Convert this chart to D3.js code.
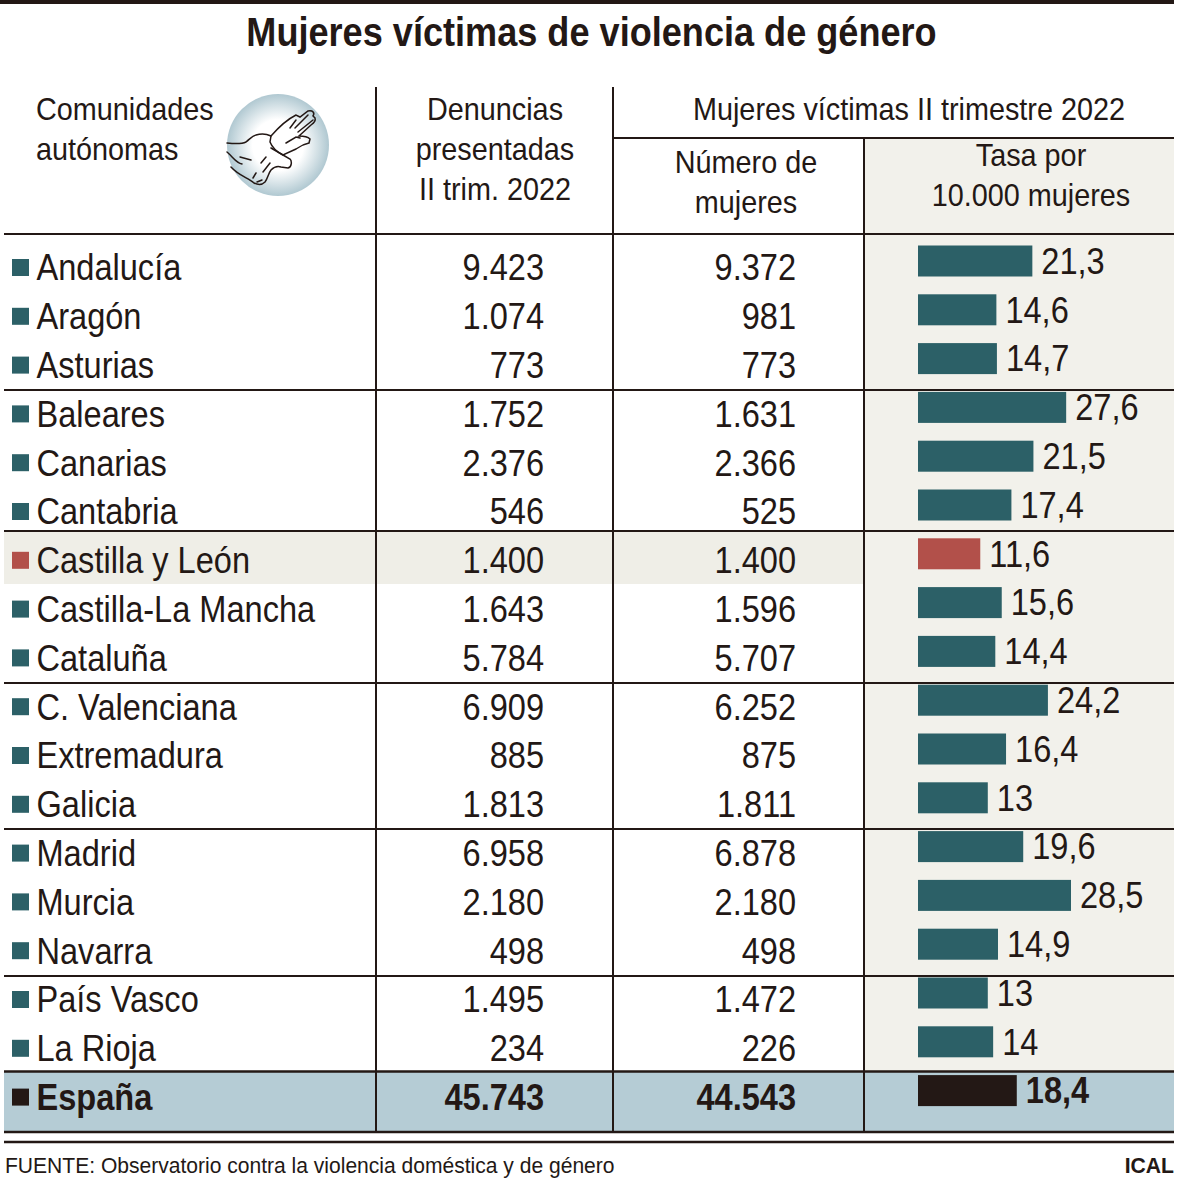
<!DOCTYPE html>
<html>
<head>
<meta charset="utf-8">
<script src="https://cdn.jsdelivr.net/npm/d3@7"></script>
<style>
  html, body { margin: 0; padding: 0; background: #fff; }
  svg { display: block; }
  text { font-family: "Liberation Sans", sans-serif; fill: #231815; }
</style>
</head>
<body>
<div id="chart"></div>
<script>
// Datos
const comunidades = ['Andalucía', 'Aragón', 'Asturias', 'Baleares', 'Canarias', 'Cantabria', 'Castilla y León',
  'Castilla-La Mancha', 'Cataluña', 'C. Valenciana', 'Extremadura', 'Galicia', 'Madrid', 'Murcia', 'Navarra',
  'País Vasco', 'La Rioja', 'España'];
const denuncias = [9423, 1074, 773, 1752, 2376, 546, 1400, 1643, 5784, 6909, 885, 1813, 6958, 2180, 498, 1495, 234, 45743];
const mujeres = [9372, 981, 773, 1631, 2366, 525, 1400, 1596, 5707, 6252, 875, 1811, 6878, 2180, 498, 1472, 226, 44543];
const tasas = [21.3, 14.6, 14.7, 27.6, 21.5, 17.4, 11.6, 15.6, 14.4, 24.2, 16.4, 13, 19.6, 28.5, 14.9, 13, 14, 18.4];

const width = 1179, height = 1183;
const ink = '#231815', teal = '#2c6067', red = '#b2504a', panel = '#f2f1eb', band = '#efeee7', total = '#b5ccd5';
const left = 4, right = 1174;
const col1 = 376, col2 = 613, col3 = 864;
const totalIdx = comunidades.length - 1, hlIdx = comunidades.indexOf('Castilla y León');

// horizontal rules that split the rows in groups
const rules = [234, 390, 531, 683, 829, 976];

const es = d3.formatLocale({ decimal: ',', thousands: '.', grouping: [3], currency: ['', '€'] });
const fmtInt = es.format(',d');
const fmtRate = d => String(d).replace('.', ',');

const svg = d3.select('#chart').append('svg').attr('width', width).attr('height', height);

// scales
const x = d3.scaleLinear().domain([0, 28.5]).range([918, 1071]);
const y = d3.scaleLinear().domain([0, totalIdx]).range([261, 261 + 48.8 * totalIdx]);
const barH = 31;

// the reference type is a narrow sans, so squeeze Liberation Sans horizontally
function label(parent, tx, ty, str, opts) {
  const o = Object.assign({ size: 37, squeeze: 0.88, anchor: 'start', bold: false }, opts);
  return parent.append('text')
    .attr('transform', `translate(${tx},${ty}) scale(${o.squeeze},1)`)
    .attr('text-anchor', o.anchor)
    .attr('font-size', o.size)
    .attr('font-weight', o.bold ? 700 : 400)
    .text(str);
}

// backgrounds
svg.append('rect').attr('x', col3).attr('y', 138).attr('width', right - col3).attr('height', 933).attr('fill', panel);
svg.append('rect').attr('x', left).attr('y', 531).attr('width', col3 - left).attr('height', 53).attr('fill', band);
svg.append('rect').attr('x', left).attr('y', 1071).attr('width', right - left).attr('height', 61).attr('fill', total);

// top bar and title
svg.append('rect').attr('x', 0).attr('y', 0).attr('width', right).attr('height', 4).attr('fill', ink);
label(svg, 591.5, 46, 'Mujeres víctimas de violencia de género', { size: 41, squeeze: 0.881, anchor: 'middle', bold: true });

// lines
const hLine = (x1, x2, yy, w) => svg.append('line').attr('x1', x1).attr('x2', x2).attr('y1', yy).attr('y2', yy)
  .attr('stroke', ink).attr('stroke-width', w);
const vLine = (xx, y1, y2) => svg.append('line').attr('x1', xx).attr('x2', xx).attr('y1', y1).attr('y2', y2)
  .attr('stroke', ink).attr('stroke-width', 2);
rules.forEach(r => hLine(left, right, r, 2));
hLine(col2, right, 138, 2);
hLine(left, right, 1071.5, 2.5);
hLine(left, right, 1132, 2.5);
hLine(left, right, 1142, 2.5);
vLine(col1, 87, 1132);
vLine(col2, 87, 1132);
vLine(col3, 138, 1132);

// header
const head = (tx, ty, t, anchor) => label(svg, tx, ty - 0.6, t, { size: 32, squeeze: 0.9, anchor: anchor || 'middle' });
head(36, 121, 'Comunidades', 'start');
head(36, 161, 'autónomas', 'start');
head(495, 121, 'Denuncias');
head(495, 161, 'presentadas');
head(495, 201, 'II trim. 2022');
head(909, 121, 'Mujeres víctimas II trimestre 2022');
head(746, 174, 'Número de');
head(746, 214, 'mujeres');
head(1031, 167, 'Tasa por');
head(1031, 207, '10.000 mujeres');

// icon
const defs = svg.append('defs');
const grad = defs.append('radialGradient').attr('id', 'ball');
grad.append('stop').attr('offset', '50%').attr('stop-color', '#fff');
grad.append('stop').attr('offset', '100%').attr('stop-color', '#b0c8d1');
const icon = svg.append('g').attr('transform', 'translate(278,145)');
icon.append('circle').attr('r', 51).attr('fill', 'url(#ball)');
const handPaths = [
  'M-51,-2 C-42,-1 -36,-1 -32,-3 C-28,-6 -26,-9 -22,-10 C-16,-12 -11,-11 -7,-9',
  'M-7,-9 C0,-17 8,-25 18,-30 L22,-28 L30,-34 C35,-35 37,-32 35,-29 L37,-27 C38,-24 36,-22 33,-20 L21,-9 C26,-9 30,-8 32,-6 L31,-2 C26,-1 22,1 18,4 L5,10 C-1,7 -6,2 -8,-3 L-7,-9',
  'M12,-17 L18,-25 M17,-17 L30,-30 M20,-13 L35,-25 M8,-2 L18,-8 L22,-7',
  'M-38,12 L-27,15 M-51,7 C-45,12 -42,18 -36,19',
  'M-47,22 C-40,30 -30,33 -24,38 C-20,40 -16,40 -13,37 C-10,33 -10,29 -7,25 C-4,22 0,21 3,22 L10,23 C14,22 14,16 12,14 L5,10 L-7,3',
  'M-12,12 L-17,18 M-8,18 L-15,27 M-22,28 L-25,33 M-16,35 L-21,37'
];
icon.selectAll('path').data(handPaths).join('path')
  .attr('d', d => d).attr('fill', 'none').attr('stroke', ink).attr('stroke-width', 1.5).attr('stroke-linecap', 'round');

// rows
const isTotal = i => i === totalIdx;
const textY = i => y(i) + 19.3;

comunidades.forEach((name, i) => {
  const row = svg.append('g');
  const color = isTotal(i) ? ink : i === hlIdx ? red : teal;
  const bold = isTotal(i);
  row.append('rect').attr('x', 12).attr('y', y(i) - 2).attr('width', 17).attr('height', 17).attr('fill', color);
  label(row, 36.5, textY(i), name, { bold });
  label(row, 544, textY(i), fmtInt(denuncias[i]), { bold, anchor: 'end' });
  label(row, 796, textY(i), fmtInt(mujeres[i]), { bold, anchor: 'end' });
  row.append('rect').attr('x', x(0)).attr('y', y(i) - barH / 2)
    .attr('width', x(tasas[i]) - x(0)).attr('height', barH).attr('fill', color);
  label(row, x(tasas[i]) + 9, y(i) + 12.8, fmtRate(tasas[i]), { bold });
});

// footer
label(svg, 5, 1173, 'FUENTE: Observatorio contra la violencia doméstica y de género', { size: 22.5, squeeze: 0.936 });
label(svg, 1174, 1173, 'ICAL', { size: 22.5, squeeze: 0.94, anchor: 'end', bold: true });
</script>
</body>
</html>
